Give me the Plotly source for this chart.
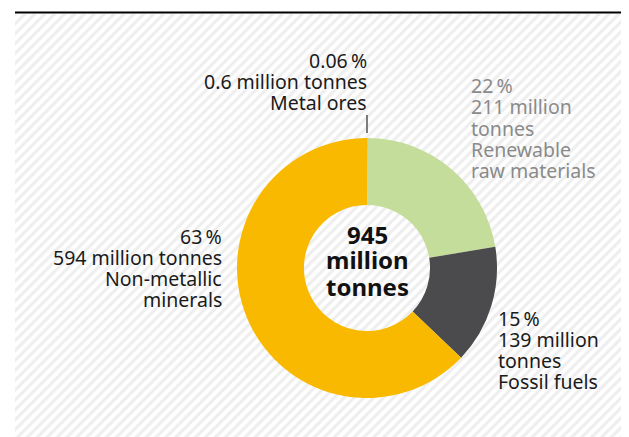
import plotly.graph_objects as go

W, H = 629, 437
OX, OY = 8, 8  # page body margin compensation

categories = ["Metal ores", "Renewable raw materials", "Fossil fuels", "Non-metallic minerals"]
values = [0.6, 211, 139, 594]
label_lines = [
    ["0.06\u2009%", "0.6 million tonnes", "Metal ores"],
    ["22\u2009%", "211 million", "tonnes", "Renewable", "raw materials"],
    ["15\u2009%", "139 million", "tonnes", "Fossil fuels"],
    ["63\u2009%", "594 million tonnes", "Non-metallic", "minerals"],
]
colors = ["#6f8c8c", "#c5dd9b", "#4b4b4d", "#f9b900"]
label_colors = ["#1a1a1a", "#8a8a8a", "#1a1a1a", "#1a1a1a"]
total_lines = ["945", "million", "tonnes"]

FONT = "Noto Sans"
FS = 19.5
FSB = 24


def px(x):
    return (x - OX) / W


def py(y):
    return 1 - (y - OY) / H


fig = go.Figure()

# hatched background
fig.add_trace(go.Bar(
    x=[0], y=[1], width=[1],
    marker=dict(color="#ffffff", line=dict(width=0),
                pattern=dict(shape="/", fgcolor="#dedede", bgcolor="#ffffff", size=7, solidity=0.45)),
    hoverinfo="skip", showlegend=False,
))

cx, cy, r = 367, 268, 130
fig.add_trace(go.Pie(
    values=values, labels=categories, sort=False, direction="clockwise", rotation=0,
    hole=0.485, textinfo="none", hoverinfo="label+value",
    marker=dict(colors=colors, line=dict(width=0)),
    domain=dict(x=[px(cx - r), px(cx + r)], y=[py(cy + r), py(cy - r)]),
    showlegend=False,
))

# (anchor x, xanchor, first baseline, line step)
placements = [
    (368, "right", 68, 21),
    (470, "left", 93, 21.2),
    (497, "left", 326, 21),
    (223, "right", 243.5, 21.2),
]

ann = []
for i, (ax, xa, b0, step) in enumerate(placements):
    for j, line in enumerate(label_lines[i]):
        base = b0 + j * step
        ann.append(dict(x=px(ax), y=py(base - 0.37 * FS), xanchor=xa, yanchor="middle",
                        text=line, font=dict(size=FS, color=label_colors[i], family=FONT)))

for j, (line, base) in enumerate(zip(total_lines, [243, 268.5, 295])):
    ann.append(dict(x=px(cx), y=py(base - 0.37 * FSB), xanchor="center", yanchor="middle",
                    text=f"<b>{line}</b>", font=dict(size=FSB, color="#111111", family=FONT)))

for a in ann:
    a.update(xref="paper", yref="paper", showarrow=False, borderpad=0)

fig.update_layout(
    width=W, height=H,
    margin=dict(l=0, r=0, t=0, b=0),
    paper_bgcolor="#ffffff", plot_bgcolor="rgba(0,0,0,0)",
    bargap=0,
    xaxis=dict(domain=[px(15), 1], range=[-0.5, 0.5], visible=False, fixedrange=True),
    yaxis=dict(domain=[0, py(14)], range=[0, 1], visible=False, fixedrange=True),
    annotations=ann,
    shapes=[
        dict(type="line", xref="paper", yref="paper", x0=px(15), x1=1,
             y0=py(12.5), y1=py(12.5), line=dict(color="#000000", width=2)),
        dict(type="line", xref="paper", yref="paper", x0=px(367), x1=px(367),
             y0=py(115), y1=py(133), line=dict(color="#555555", width=1.5)),
    ],
    font=dict(family=FONT),
)

fig.write_html("out.html")
